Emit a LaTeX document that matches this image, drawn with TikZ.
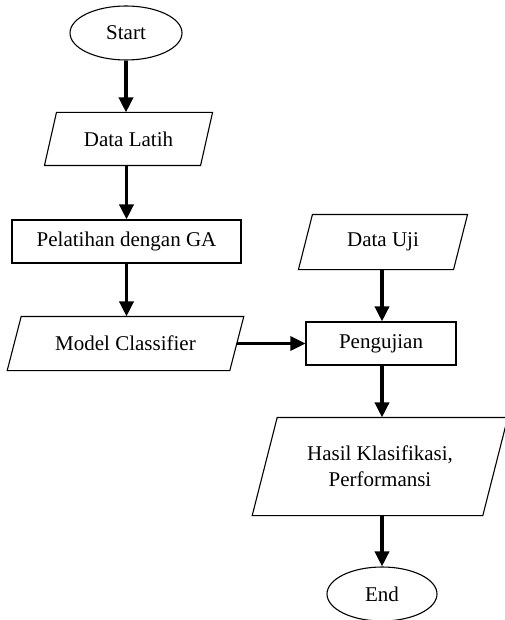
\documentclass[tikz,border=0pt]{standalone}
\usepackage{fontspec}
\setmainfont{Liberation Serif}
\usetikzlibrary{shapes.geometric,arrows.meta}
\tikzset{
  base/.style={font=\fontsize{21}{26}\selectfont, align=center, inner sep=0pt, line width=1.1pt},
  term/.style={base, draw, ellipse},
  procbox/.style={base, draw, rectangle},
  para/.style={base, rectangle},
  paraline/.style={line width=1.1pt},
  flow/.style={line width=3.5pt, -{Triangle[width=14pt,length=15pt]}},
}
\newcommand{\myparaedge}[2]{%
  \draw[paraline] ([xshift=#2]#1.north west) -- ([xshift=#2]#1.north east)
    -- ([xshift=-#2]#1.south east) -- ([xshift=-#2]#1.south west) -- cycle;}
\begin{document}
\begin{tikzpicture}[x=1pt,y=-1pt]
\useasboundingbox (0,0) rectangle (505,620);
\node[term, minimum width=112pt, minimum height=54pt] (start) at (126,33) {Start};
\node[para, minimum width=155pt, minimum height=52pt] (dl) at (128.5,139) {Data Latih};
\myparaedge{dl}{6pt}
\node[procbox, minimum width=229pt, minimum height=43pt] (pel) at (126.5,241.5) {Pelatihan dengan GA};
\node[para, minimum width=221.5pt, minimum height=53pt] (mc) at (125.5,343.5) {Model Classifier};
\myparaedge{mc}{7pt}
\node[para, minimum width=154pt, minimum height=54pt] (du) at (383,242) {Data Uji};
\myparaedge{du}{7pt}
\node[procbox, minimum width=150pt, minimum height=43pt] (uji) at (381,343.5) {Pengujian};
\node[para, minimum width=229.5pt, minimum height=97pt] (has) at (380,466.5) {Hasil Klasifikasi,\\Performansi};
\myparaedge{has}{12.5pt}
\node[term, minimum width=110pt, minimum height=54pt] (end) at (382,594) {End};

\draw[flow] (start.south) -- (start.south |- dl.north);
\draw[flow] ([xshift=-2pt]dl.south) -- ([xshift=-2pt]dl.south |- pel.north);
\draw[flow] (pel.south) -- (pel.south |- mc.north);
\draw[flow] ([xshift=-1pt]du.south) -- ([xshift=-1pt]du.south |- uji.north);
\draw[flow] ([xshift=1pt]uji.south) -- ([xshift=1pt]uji.south |- has.north);
\draw[flow] ([xshift=2pt]has.south) -- ([xshift=2pt]has.south |- end.north);
\draw[flow, line width=3pt] (mc.east) -- (mc.east -| uji.west);
\end{tikzpicture}
\end{document}
